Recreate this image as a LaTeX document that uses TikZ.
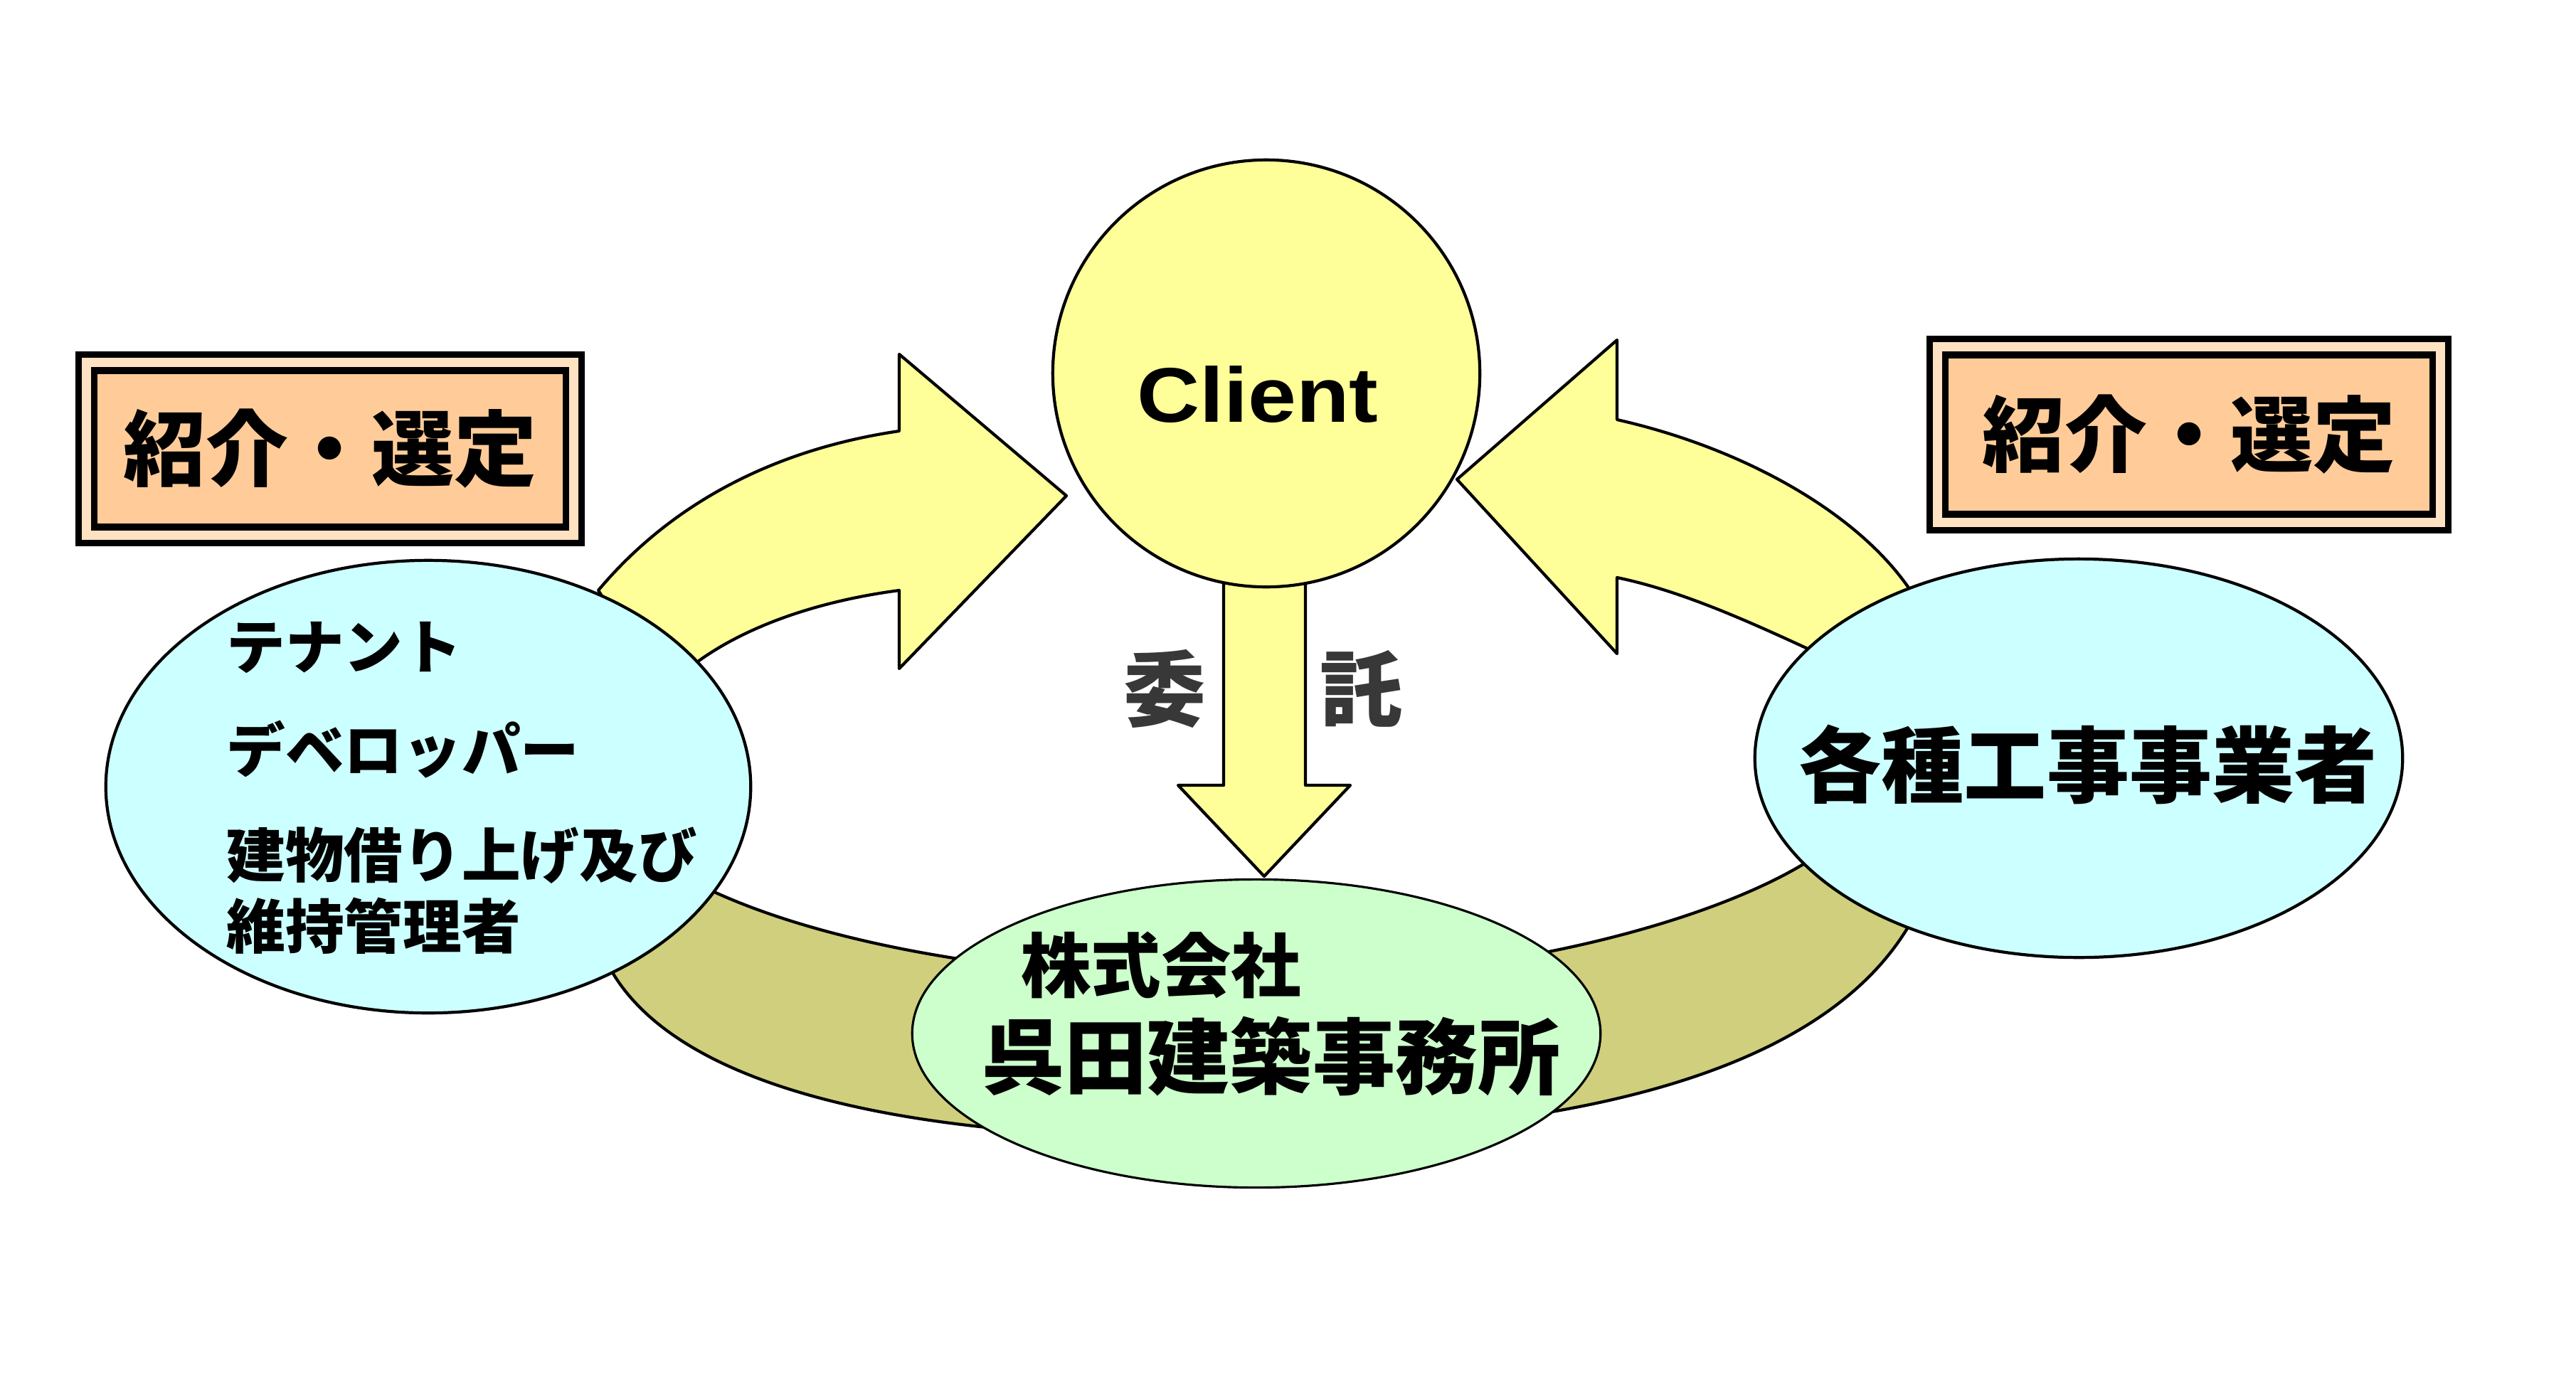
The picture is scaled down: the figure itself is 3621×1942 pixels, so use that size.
\documentclass[tikz,border=0pt]{standalone}
\usepackage{fontspec}
\usepackage{graphicx}
\setmainfont{Liberation Sans}
\newfontfamily\jp{Noto Sans CJK JP}
\usetikzlibrary{shapes.geometric}
\definecolor{pale}{HTML}{FFFF99}
\definecolor{bandcol}{HTML}{CFCF7D}
\definecolor{aqua}{HTML}{CCFFFF}
\definecolor{mint}{HTML}{CCFFCC}
\definecolor{peach}{HTML}{FFCC99}
\definecolor{gapcol}{HTML}{FFE2C2}
\tikzset{
  shp/.style={draw,line width=1.2pt,line join=round},
  bubble/.style={ellipse,draw,line width=1.2pt,inner sep=0pt,outer sep=0pt},
  frame/.style={draw,fill=peach,line width=2.6pt,double=gapcol,double distance=3.7pt,inner sep=0pt,
    font=\jp\bfseries\fontsize{33}{40}\selectfont},
  bigtxt/.style={font=\jp\bfseries\fontsize{33}{40}\selectfont,inner sep=0pt},
  itemtxt/.style={font=\jp\bfseries\fontsize{23.5}{28}\selectfont,inner sep=0pt,anchor=west},
  graytxt/.style={font=\jp\bfseries\fontsize{33}{40}\selectfont,text=black!78,inner sep=0pt},
}
\begin{document}
\begin{tikzpicture}[x=0.01cm,y=-0.01cm]
\useasboundingbox (0,0) rectangle (3621,1942);
% lower band
\filldraw[shp,fill=bandcol] (845,1335) .. controls (930,1550) and (1350,1610) .. (1780,1597)
  .. controls (2210,1590) and (2580,1510) .. (2695,1280) -- (2565,1195)
  .. controls (2450,1280) and (2150,1375) .. (1780,1378)
  .. controls (1450,1380) and (1150,1330) .. (975,1240) -- cycle;
% curved arrows
\filldraw[shp,fill=pale] (870,875) -- (841,830) .. controls (950,700) and (1100,630) .. (1264,606) -- (1264,498) -- (1499,697)
  -- (1264,940) -- (1264,830) .. controls (1150,845) and (1050,880) .. (981,930) -- (960,950) -- cycle;
\filldraw[shp,fill=pale] (2048,674) -- (2273,478) -- (2273,590) .. controls (2450,630) and (2610,720) .. (2684,828) -- (2710,870)
  -- (2580,935) -- (2541,912) .. controls (2450,870) and (2360,830) .. (2273,812) -- (2273,919) -- cycle;
% down arrow
\filldraw[shp,fill=pale] (1720,780) -- (1720,1104) -- (1656,1104) -- (1777,1232) -- (1898,1104) -- (1835,1104) -- (1835,780) -- cycle;

\node[circle,draw,line width=1.2pt,fill=pale,minimum size=6cm,inner sep=0pt] (client) at (1780,525) {};
\node[bubble,fill=aqua,minimum width=9.06cm,minimum height=6.36cm] (owners) at (602,1106) {};
\node[bubble,fill=aqua,minimum width=9.10cm,minimum height=5.60cm] (builders) at (2922,1066) {};
\node[bubble,fill=mint,line width=0.9pt,minimum width=9.67cm,minimum height=4.33cm] (office) at (1766,1453) {};

\node[frame,minimum width=6.84cm,minimum height=2.42cm] (selL) at (464,631) {紹介・選定};
\node[frame,minimum width=7.07cm,minimum height=2.46cm] (selR) at (3077,611) {紹介・選定};

\node[font=\bfseries\fontsize{31}{36}\selectfont,inner sep=0pt] (clientt) at (1768,555) {\scalebox{1.12}[1]{Client}};
\node[graytxt] (ii) at (1638,968) {委};
\node[graytxt] (ta) at (1913,968) {託};

\foreach \t/\y [count=\i] in {テナント/910,デベロッパー/1054,建物借り上げ及び/1203,維持管理者/1302}
  \node[itemtxt] (own\i) at (318,\y) {\t};
\node[bigtxt] (buildt) at (2935,1075) {各種工事事業者};
\node[font=\jp\bfseries\fontsize{28}{34}\selectfont,inner sep=0pt] (co) at (1632,1357) {株式会社};
\node[bigtxt] (name) at (1787,1485) {呉田建築事務所};
\end{tikzpicture}
\end{document}
